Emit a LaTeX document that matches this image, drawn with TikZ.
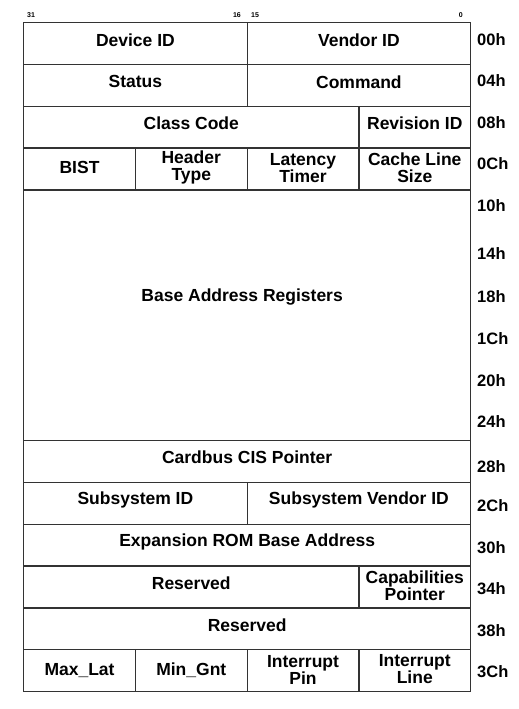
\documentclass[tikz,border=0pt]{standalone}
\usepackage{fontspec}
\setmainfont{Liberation Sans}
\begin{document}
\begin{tikzpicture}[x=1pt,y=-1pt,
  cell/.style={draw=black!80,line width=1.3pt,inner sep=0pt,anchor=north west},
  txt/.style={font=\bfseries\fontsize{17.5}{17}\selectfont,align=center,inner sep=0pt},
  off/.style={font=\bfseries\fontsize{16.5}{16}\selectfont,anchor=west,inner sep=0pt},
  bit/.style={font=\bfseries\fontsize{7}{7}\selectfont,inner sep=0pt}]
\useasboundingbox (0,0) rectangle (519,709);
\def\h{41.8}
% bit numbers
\node[bit,anchor=west] (b31) at (27,15) {31};
\node[bit,anchor=east] (b16) at (241,15) {16};
\node[bit,anchor=west] (b15) at (251,15) {15};
\node[bit,anchor=east] (b0) at (463,15) {0};
% row 0
\node[cell,minimum width=223.5pt,minimum height=\h pt] (dev) at (23,22) {};
\node[cell,minimum width=223.5pt,minimum height=\h pt] (ven) at (246.5,22) {};
% row 1
\node[cell,minimum width=223.5pt,minimum height=\h pt] (sta) at (23,63.8) {};
\node[cell,minimum width=223.5pt,minimum height=\h pt] (cmd) at (246.5,63.8) {};
% row 2
\node[cell,minimum width=335.25pt,minimum height=\h pt] (cls) at (23,105.6) {};
\node[cell,minimum width=111.75pt,minimum height=\h pt] (rev) at (358.25,105.6) {};
% row 3
\node[cell,minimum width=111.75pt,minimum height=\h pt] (bist) at (23,147.4) {};
\node[cell,minimum width=111.75pt,minimum height=\h pt] (hdr) at (134.75,147.4) {};
\node[cell,minimum width=111.75pt,minimum height=\h pt] (lat) at (246.5,147.4) {};
\node[cell,minimum width=111.75pt,minimum height=\h pt] (cls2) at (358.25,147.4) {};
% BAR
\node[cell,minimum width=447pt,minimum height=250.8pt] (bar) at (23,189.2) {};
% row 10
\node[cell,minimum width=447pt,minimum height=\h pt] (cis) at (23,440) {};
% row 11
\node[cell,minimum width=223.5pt,minimum height=\h pt] (sid) at (23,481.8) {};
\node[cell,minimum width=223.5pt,minimum height=\h pt] (svid) at (246.5,481.8) {};
% row 12
\node[cell,minimum width=447pt,minimum height=\h pt] (rom) at (23,523.6) {};
% row 13
\node[cell,minimum width=335.25pt,minimum height=\h pt] (res1) at (23,565.4) {};
\node[cell,minimum width=111.75pt,minimum height=\h pt] (cap) at (358.25,565.4) {};
% row 14
\node[cell,minimum width=447pt,minimum height=\h pt] (res2) at (23,607.2) {};
% row 15
\node[cell,minimum width=111.75pt,minimum height=\h pt] (maxl) at (23,649) {};
\node[cell,minimum width=111.75pt,minimum height=\h pt] (ming) at (134.75,649) {};
\node[cell,minimum width=111.75pt,minimum height=\h pt] (ipin) at (246.5,649) {};
\node[cell,minimum width=111.75pt,minimum height=\h pt] (iline) at (358.25,649) {};
% texts
\node[txt] (tdev) at ([yshift=3.5pt]dev.center) {Device ID};
\node[txt] (tven) at ([yshift=3.5pt]ven.center) {Vendor ID};
\node[txt] (tsta) at ([yshift=3.5pt]sta.center) {Status};
\node[txt] (tcmd) at ([yshift=3.5pt]cmd.center) {Command};
\node[txt] (tcls) at ([yshift=3.5pt]cls.center) {Class Code};
\node[txt] (trev) at ([yshift=3.5pt]rev.center) {Revision ID};
\node[txt] (tbist) at ([yshift=1pt]bist.center) {BIST};
\node[txt] (thdr) at ([yshift=1pt]hdr.center) {Header\\Type};
\node[txt] (tlat) at ([yshift=1pt]lat.center) {Latency\\Timer};
\node[txt] (tcls2) at ([yshift=1pt]cls2.center) {Cache Line\\Size};
\node[txt] (tbar) at ([xshift=-5pt,yshift=18.6pt]bar.center) {Base Address Registers};
\node[txt] (tcis) at ([yshift=4pt]cis.center) {Cardbus CIS Pointer};
\node[txt] (tsid) at ([yshift=3.5pt]sid.center) {Subsystem ID};
\node[txt] (tsvid) at ([yshift=3.5pt]svid.center) {Subsystem Vendor ID};
\node[txt] (trom) at ([yshift=3.5pt]rom.center) {Expansion ROM Base Address};
\node[txt] (tres1) at ([yshift=3.5pt]res1.center) {Reserved};
\node[txt] (tcap) at ([yshift=1pt]cap.center) {Capabilities\\Pointer};
\node[txt] (tres2) at ([yshift=3.5pt]res2.center) {Reserved};
\node[txt] (tmaxl) at (maxl.center) {Max\_Lat};
\node[txt] (tming) at (ming.center) {Min\_Gnt};
\node[txt] (tipin) at ([yshift=1pt]ipin.center) {Interrupt\\Pin};
\node[txt] (tiline) at ([yshift=1pt]iline.center) {Interrupt\\Line};
% offsets
\node[off] (o00) at (477,40) {00h};
\node[off] (o04) at (477,81) {04h};
\node[off] (o08) at (477,123) {08h};
\node[off] (o0C) at (477,164) {0Ch};
\node[off] (o10) at (477,206) {10h};
\node[off] (o14) at (477,254) {14h};
\node[off] (o18) at (477,297) {18h};
\node[off] (o1C) at (477,339) {1Ch};
\node[off] (o20) at (477,381) {20h};
\node[off] (o24) at (477,422) {24h};
\node[off] (o28) at (477,467) {28h};
\node[off] (o2C) at (477,506) {2Ch};
\node[off] (o30) at (477,548) {30h};
\node[off] (o34) at (477,589) {34h};
\node[off] (o38) at (477,631) {38h};
\node[off] (o3C) at (477,672) {3Ch};
\end{tikzpicture}
\end{document}
